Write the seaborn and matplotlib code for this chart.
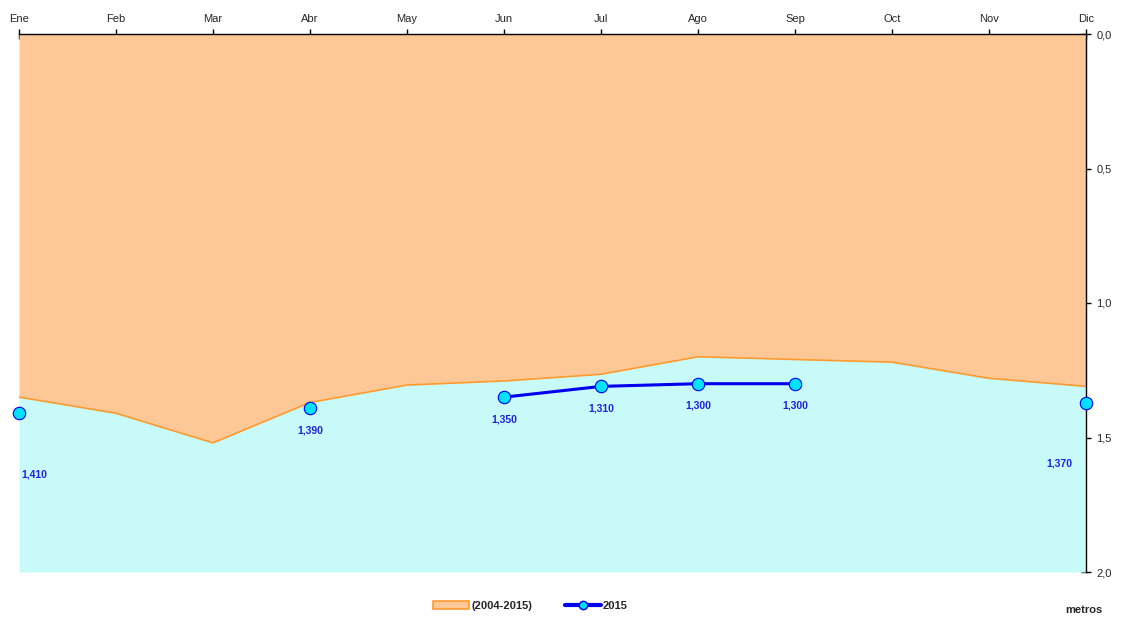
import numpy as np
import matplotlib
matplotlib.use("Agg")
import matplotlib.pyplot as plt
import seaborn as sns
from matplotlib.patches import Patch
from matplotlib.lines import Line2D

# Data
months = ["Ene", "Feb", "Mar", "Abr", "May", "Jun", "Jul", "Ago", "Sep", "Oct", "Nov", "Dic"]
avg_2004_2015 = [1.35, 1.41, 1.52, 1.37, 1.305, 1.29, 1.265, 1.20, 1.21, 1.22, 1.28, 1.31]
y2015 = [1.41, np.nan, np.nan, 1.39, np.nan, 1.35, 1.31, 1.30, 1.30, np.nan, np.nan, 1.37]
y_ticks = [0.0, 0.5, 1.0, 1.5, 2.0]

sns.set_style("white")
plt.rcParams["font.family"] = ["Liberation Sans", "DejaVu Sans"]

x = np.arange(len(months))
avg = np.array(avg_2004_2015)
v15 = np.array(y2015)

fig = plt.figure(figsize=(11.29, 6.18), dpi=100)
ax = fig.add_axes([19 / 1129, 1 - 572 / 618, (1086 - 19) / 1129, (572 - 34) / 618])

orange_fill = "#FDC896"
orange_line = "#FF9A2E"
cyan_fill = "#C8FAFA"

ax.fill_between(x, 0, avg, color=orange_fill, linewidth=0)
ax.fill_between(x, avg, 2.0, color=cyan_fill, linewidth=0)
sns.lineplot(x=x, y=avg, color=orange_line, linewidth=1.2, ax=ax)

# 2015 line (gaps break the line)
ax.plot(x, v15, color="#0000EE", linewidth=2.2, zorder=3)
mask = ~np.isnan(v15)
sns.scatterplot(x=x[mask], y=v15[mask], s=80, color="#00E0FF", edgecolor="#0000EE",
                linewidth=0.8, zorder=4, clip_on=False, ax=ax)

# data labels
for xi, yi in zip(x[mask], v15[mask]):
    label = f"{yi:.3f}".replace(".", ",")
    if xi == 0:
        ax.annotate(label, (xi, yi), xytext=(2, -44), textcoords="offset points",
                    ha="left", va="center", fontsize=7.5, fontweight="bold", color="#2020E0")
    elif xi == len(months) - 1:
        ax.annotate(label, (xi, yi), xytext=(-10, -44), textcoords="offset points",
                    ha="right", va="center", fontsize=7.5, fontweight="bold", color="#2020E0")
    else:
        ax.annotate(label, (xi, yi), xytext=(0, -16), textcoords="offset points",
                    ha="center", va="center", fontsize=7.5, fontweight="bold", color="#2020E0")

ax.set_xlim(0, len(months) - 1)
ax.set_ylim(2.0, 0.0)
ax.xaxis.tick_top()
ax.set_xticks(x)
ax.set_xticklabels(months, fontsize=8)
ax.yaxis.tick_right()
ax.set_yticks(y_ticks)
ax.set_yticklabels([f"{t:.1f}".replace(".", ",") for t in y_ticks], fontsize=8)
ax.tick_params(axis="both", direction="inout", length=7, width=1, color="black", pad=4)
ax.tick_params(axis="x", top=True, bottom=False)
ax.tick_params(axis="y", right=True, left=False)

for side in ["left", "bottom"]:
    ax.spines[side].set_visible(False)
for side in ["top", "right"]:
    ax.spines[side].set_color("black")
    ax.spines[side].set_linewidth(1)
ax.set_xlabel("")
ax.set_ylabel("")

handles = [
    Patch(facecolor=orange_fill, edgecolor=orange_line, linewidth=1.2, label="(2004-2015)"),
    Line2D([0], [0], color="#0000EE", linewidth=3, marker="o", markersize=6,
           markerfacecolor="#00E0FF", markeredgecolor="#0000EE", label="2015"),
]
fig.legend(handles=handles, loc="center", bbox_to_anchor=(0.47, 1 - 606 / 618), ncol=2,
           frameon=False, prop={"size": 8, "weight": "bold"}, handlelength=3.2,
           handletextpad=0.2, columnspacing=3, handleheight=0.7)

fig.text(1084 / 1129, 1 - 610 / 618, "metros", ha="center", va="center",
         fontsize=8, fontweight="bold")

fig.savefig("out.png", dpi=100)
